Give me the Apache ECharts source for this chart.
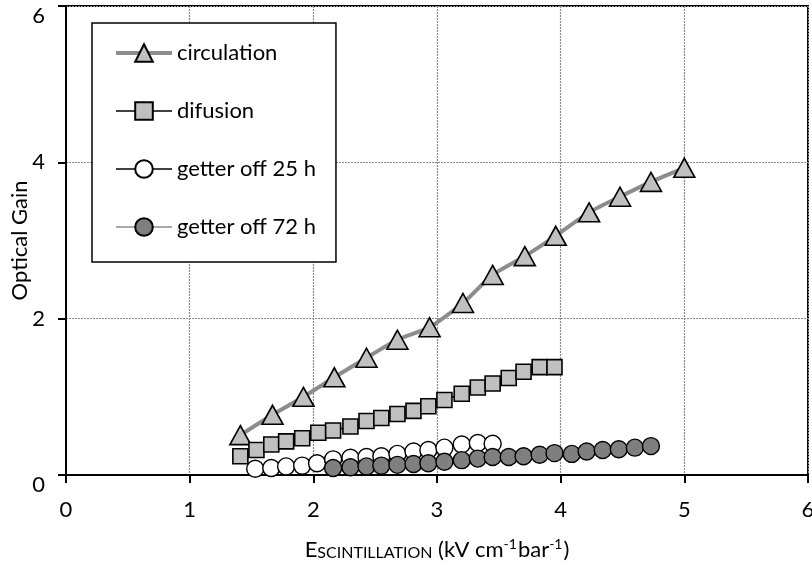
<!DOCTYPE html>
<html>
<head>
<meta charset="utf-8">
<script src="https://cdn.jsdelivr.net/npm/echarts@6/dist/echarts.min.js"></script>
<style>
  html, body { margin: 0; padding: 0; background: #fff; }
  #main { width: 812px; height: 563px; }
</style>
</head>
<body>
<div id="main"></div>
<script>
// values
var circulationX = [1.41, 1.67, 1.92, 2.17, 2.43, 2.68, 2.94, 3.21, 3.45, 3.71, 3.96, 4.23, 4.48, 4.73, 5.00];
var circulationY = [0.51, 0.77, 1.00, 1.25, 1.50, 1.73, 1.89, 2.20, 2.56, 2.80, 3.06, 3.36, 3.56, 3.75, 3.93];

var difusionX = [1.41, 1.54, 1.66, 1.78, 1.91, 2.04, 2.16, 2.30, 2.43, 2.55, 2.68, 2.81, 2.93, 3.06, 3.20, 3.33, 3.45, 3.58, 3.70, 3.83, 3.95];
var difusionY = [0.24, 0.32, 0.39, 0.43, 0.47, 0.54, 0.57, 0.62, 0.69, 0.73, 0.78, 0.82, 0.88, 0.96, 1.04, 1.12, 1.17, 1.24, 1.32, 1.38, 1.38];

var getter25X = [1.53, 1.66, 1.78, 1.91, 2.03, 2.16, 2.30, 2.43, 2.55, 2.68, 2.81, 2.93, 3.06, 3.20, 3.33, 3.45];
var getter25Y = [0.08, 0.09, 0.11, 0.12, 0.15, 0.20, 0.22, 0.23, 0.24, 0.27, 0.30, 0.32, 0.35, 0.39, 0.41, 0.40];

var getter72X = [2.16, 2.30, 2.43, 2.55, 2.68, 2.81, 2.93, 3.06, 3.20, 3.33, 3.45, 3.58, 3.70, 3.83, 3.95, 4.09, 4.21, 4.34, 4.47, 4.60, 4.73];
var getter72Y = [0.09, 0.10, 0.11, 0.12, 0.13, 0.14, 0.15, 0.17, 0.19, 0.21, 0.23, 0.23, 0.24, 0.26, 0.28, 0.27, 0.30, 0.32, 0.33, 0.35, 0.37];

var seriesNames = ['circulation', 'difusion', 'getter off 25 h', 'getter off 72 h'];

function pairs(xs, ys) {
  return xs.map(function (x, i) { return [x, ys[i]]; });
}

var FONT = 'Lato';
var FS = 22;
var chart = echarts.init(document.getElementById('main'));

var option = {
  animation: false,
  backgroundColor: '#fff',
  textStyle: { fontFamily: FONT },
  grid: {
    left: 66, right: 4, top: 6, bottom: 88,
    outerBoundsMode: 'none',
    show: true, borderColor: '#000', borderWidth: 2, backgroundColor: 'transparent'
  },
  legend: {
    orient: 'vertical',
    left: 92, top: 23,
    padding: [19, 20, 24, 22],
    itemGap: 36,
    itemWidth: 56,
    itemHeight: 22,
    borderColor: '#000',
    borderWidth: 1.5,
    backgroundColor: '#fff',
    textStyle: { fontSize: FS, color: '#000', fontFamily: FONT, lineHeight: 22 },
    data: [
      { name: seriesNames[0], lineStyle: { width: 4 } },
      { name: seriesNames[1], lineStyle: { width: 1.5 } },
      { name: seriesNames[2], lineStyle: { width: 1.5 } },
      { name: seriesNames[3], lineStyle: { width: 1.5 } }
    ]
  },
  xAxis: {
    type: 'value',
    min: 0, max: 6, interval: 1,
    name: '{a|E}{b|SCINTILLATION}{a| (kV cm}{s|-1}{a|bar}{s|-1}{a|)}',
    nameLocation: 'middle',
    nameGap: 62,
    nameMoveOverlap: false,
    nameTextStyle: {
      color: '#000',
      rich: {
        a: { fontSize: FS, color: '#000', fontFamily: FONT },
        b: { fontSize: 16, color: '#000', fontFamily: FONT, padding: [5, 0, 0, 0] },
        s: { fontSize: 14, color: '#000', fontFamily: FONT, padding: [0, 1, 12, 0] }
      }
    },
    axisLine: { onZero: false, lineStyle: { color: '#000', width: 2 } },
    axisTick: { show: true, length: 8, lineStyle: { color: '#000', width: 2 } },
    axisLabel: { fontSize: FS, color: '#000', margin: 24, fontFamily: FONT },
    splitLine: { show: true, lineStyle: { color: '#8a8a8a', width: 1.2, type: [2, 1] } }
  },
  yAxis: {
    type: 'value',
    min: 0, max: 6, interval: 2,
    name: 'Optical Gain',
    nameLocation: 'middle',
    nameGap: 35,
    nameMoveOverlap: false,
    nameTextStyle: { fontSize: FS, color: '#000', fontFamily: FONT },
    axisLine: { show: true, onZero: false, lineStyle: { color: '#000', width: 2 } },
    axisTick: { show: true, length: 8, lineStyle: { color: '#000', width: 2 } },
    axisLabel: {
      fontSize: FS, color: '#000', margin: 21, fontFamily: FONT,
      formatter: function (v) {
        return (v === 0 || v === 6) ? '{d|' + v + '}' : String(v);
      },
      rich: { d: { fontSize: FS, color: '#000', fontFamily: FONT, padding: [20, 0, 0, 0] } }
    },
    splitLine: { show: true, lineStyle: { color: '#8a8a8a', width: 1.2, type: [2, 1] } }
  },
  series: [
    {
      name: seriesNames[0],
      type: 'line',
      data: pairs(circulationX, circulationY),
      smooth: 0.2,
      symbol: 'triangle',
      symbolSize: [21, 19],
      itemStyle: { color: '#c0c0c0', borderColor: '#000', borderWidth: 1.6 },
      lineStyle: { color: '#8c8c8c', width: 4 },
      z: 2
    },
    {
      name: seriesNames[1],
      type: 'line',
      data: pairs(difusionX, difusionY),
      symbol: 'rect',
      symbolSize: 15,
      itemStyle: { color: '#c0c0c0', borderColor: '#000', borderWidth: 1.6 },
      lineStyle: { color: '#000', width: 1.5 },
      z: 3
    },
    {
      name: seriesNames[2],
      type: 'line',
      data: pairs(getter25X, getter25Y),
      symbol: 'circle',
      symbolSize: 17,
      itemStyle: { color: '#fff', borderColor: '#000', borderWidth: 1.4 },
      lineStyle: { color: '#000', width: 1.5 },
      z: 4
    },
    {
      name: seriesNames[3],
      type: 'line',
      data: pairs(getter72X, getter72Y),
      symbol: 'circle',
      symbolSize: 17,
      itemStyle: { color: '#7f7f7f', borderColor: '#000', borderWidth: 1.4 },
      lineStyle: { color: '#8c8c8c', width: 1.5 },
      z: 5
    }
  ]
};

chart.setOption(option);
</script>
</body>
</html>
